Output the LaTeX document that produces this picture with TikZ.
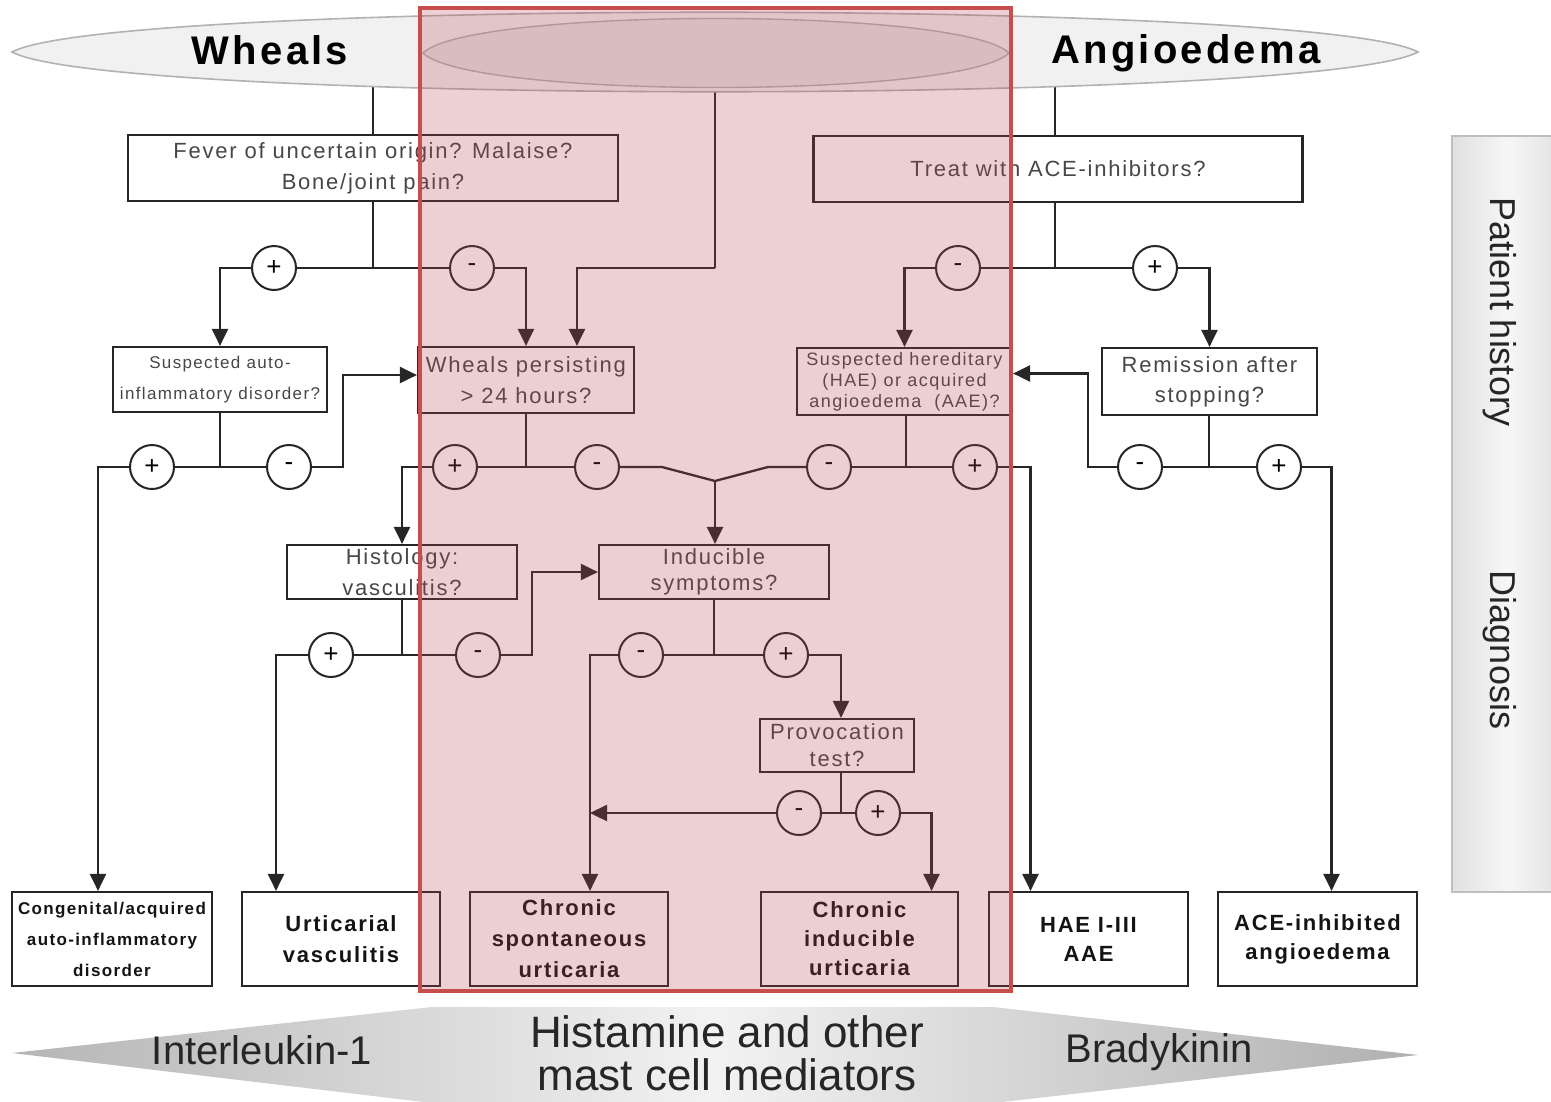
\documentclass[tikz,border=0pt]{standalone}
\usepackage{fontspec}
\setmainfont{Liberation Sans}
\newfontfamily\trk[LetterSpace=8]{Liberation Sans}
\usetikzlibrary{arrows.meta,calc}
\definecolor{ovl}{RGB}{183,67,79}
\definecolor{redline}{RGB}{198,78,76}
\begin{document}
\begin{tikzpicture}[x=1pt,y=-1pt,
  qbox/.style={draw=black!85,line width=2.2pt,fill=white,inner sep=0pt,align=center,text=black!72,font=\trk\fontsize{22}{31}\selectfont},
  dbox/.style={qbox,text=black!92,font=\trk\bfseries\fontsize{22}{31}\selectfont},
  sgn/.style={circle,draw=black!85,line width=2pt,fill=white,minimum size=44pt,inner sep=0pt,font=\fontsize{26}{26}\selectfont},
  ln/.style={line width=2.3pt,draw=black!85},
  arr/.style={ln,-{Triangle[length=17pt,width=16pt]}}]
\useasboundingbox (0,0) rectangle (1551,1101);

% ---------- question boxes ----------
\node[qbox,minimum width=490pt,minimum height=66pt] (B1) at (373,168) {Fever of uncertain origin? Malaise?\\Bone/joint pain?};
\node[qbox,minimum width=489pt,minimum height=66pt] (B2) at (1058,169) {Treat with ACE-inhibitors?};
\node[qbox,minimum width=214pt,minimum height=65pt,font=\trk\fontsize{17}{31}\selectfont] (B3) at (220,379.5) {Suspected auto-\\inflammatory disorder?};
\node[qbox,minimum width=216pt,minimum height=66pt] (B4) at (526,380) {Wheals persisting\\ > 24 hours?};
\node[qbox,minimum width=215pt,minimum height=67pt,font=\trk\fontsize{18}{21}\selectfont] (B5) at (904.5,381.5) {Suspected hereditary\\(HAE) or acquired\\angioedema\ \ (AAE)?};
\node[qbox,minimum width=215pt,minimum height=67pt,font=\trk\fontsize{22}{30}\selectfont] (B6) at (1209.5,381.5) {Remission after\\stopping?};
\node[qbox,minimum width=230pt,minimum height=54pt] (B7) at (402,572) {Histology:\\vasculitis?};
\node[qbox,minimum width=230pt,minimum height=54pt,font=\trk\fontsize{22}{26}\selectfont] (B8) at (714,572) {Inducible\\symptoms?};
\node[qbox,minimum width=154pt,minimum height=53pt,font=\trk\fontsize{22}{27}\selectfont] (B9) at (837,745.5) {Provocation\\test?};

% ---------- diagnosis boxes ----------
\node[dbox,minimum width=200pt,minimum height=94pt,font=\trk\bfseries\fontsize{17}{31}\selectfont] (C1) at (112,939) {Congenital/acquired\\auto-inflammatory\\disorder};
\node[dbox,minimum width=198pt,minimum height=94pt] (C2) at (341,939) {Urticarial\\vasculitis};
\node[dbox,minimum width=198pt,minimum height=94pt] (C3) at (569,939) {Chronic\\spontaneous\\urticaria};
\node[dbox,minimum width=197pt,minimum height=94pt,font=\trk\bfseries\fontsize{22}{29}\selectfont] (C4) at (859.5,939) {Chronic\\inducible\\urticaria};
\node[dbox,minimum width=199pt,minimum height=94pt,font=\trk\bfseries\fontsize{22}{29}\selectfont] (C5) at (1088.5,939) {HAE I-III\\AAE};
\node[dbox,minimum width=199pt,minimum height=94pt,font=\trk\bfseries\fontsize{22}{29}\selectfont] (C6) at (1317.5,939) {ACE-inhibited\\angioedema};

% ---------- sign circles ----------
\node[sgn] (s1) at (274,268) {+};
\node[sgn] (s2) at (472,268) {-};
\node[sgn] (s3) at (958,268) {-};
\node[sgn] (s4) at (1155,268) {+};
\node[sgn] (s5) at (152,467) {+};
\node[sgn] (s6) at (289,467) {-};
\node[sgn] (s7) at (455,467) {+};
\node[sgn] (s8) at (597,467) {-};
\node[sgn] (s9) at (829,467) {-};
\node[sgn] (s10) at (975,467) {+};
\node[sgn] (s11) at (1140,467) {-};
\node[sgn] (s12) at (1279,467) {+};
\node[sgn] (s13) at (331,655) {+};
\node[sgn] (s14) at (478,655) {-};
\node[sgn] (s15) at (641,655) {-};
\node[sgn] (s16) at (786,655) {+};
\node[sgn] (s17) at (799,813) {-};
\node[sgn] (s18) at (878,813) {+};

% ---------- junction coordinates ----------
\coordinate (wt) at (373,70);
\coordinate (mt) at (715,70);
\coordinate (at) at (1055,70);
\coordinate (j1) at (373,268);
\coordinate (m1) at (715,268);
\coordinate (j3) at (1055,268);
\coordinate (j4) at (220,467);
\coordinate (k1) at (343,467);
\coordinate (j5) at (526,467);
\coordinate (v1) at (662,467);
\coordinate (v0) at (715,481);
\coordinate (v2) at (768,467);
\coordinate (j6) at (906,467);
\coordinate (j7) at (1209,467);
\coordinate (k2) at (1088,467);
\coordinate (j8) at (402,655);
\coordinate (k3) at (532,655);
\coordinate (j9) at (714,655);
\coordinate (j10) at (841,813);
\coordinate (k4) at (590,813);

% ---------- connectors ----------
\draw[ln] (wt) -- (B1.north);
\draw[ln] (B1.south) -- (j1);
\draw[ln] (j1) -- (s1);
\draw[arr] (s1) -| (B3.north);
\draw[ln] (j1) -- (s2);
\draw[arr] (s2) -| (B4.north);
\draw[ln] (mt) -- (m1);
\draw[arr] (m1) -| ($(B4.north)+(51,0)$);
\draw[ln] (at) -- (B2.north -| at);
\draw[ln] (B2.south -| j3) -- (j3);
\draw[ln] (j3) -- (s3);
\draw[arr] (s3) -| (B5.north);
\draw[ln] (j3) -- (s4);
\draw[arr] (s4) -| (B6.north);

\draw[ln] (B3.south) -- (j4);
\draw[ln] (j4) -- (s5);
\draw[arr] (s5) -| ($(C1.north)+(-14,0)$);
\draw[ln] (j4) -- (s6);
\draw[arr] (s6) -- (k1) |- ($(B4.west)+(0,-5)$);
\draw[ln] (B4.south) -- (j5);
\draw[ln] (j5) -- (s7);
\draw[arr] (s7) -| (B7.north);
\draw[ln] (j5) -- (s8);
\draw[ln] (s8) -- (v1) -- (v0) -- (v2) -- (s9);
\draw[arr] (v0) -- (B8.north -| v0);
\draw[ln] (B5.south -| j6) -- (j6);
\draw[ln] (j6) -- (s9);
\draw[ln] (j6) -- (s10);
\draw[arr] (s10) -| ($(C5.north)+(-58,0)$);
\draw[ln] (B6.south -| j7) -- (j7);
\draw[ln] (j7) -- (s11);
\draw[arr] (s11) -- (k2) |- ($(B5.east)+(0,-8)$);
\draw[ln] (j7) -- (s12);
\draw[arr] (s12) -| ($(C6.north)+(14,0)$);

\draw[ln] (B7.south) -- (j8);
\draw[ln] (j8) -- (s13);
\draw[arr] (s13) -| ($(C2.north)+(-65,0)$);
\draw[ln] (j8) -- (s14);
\draw[arr] (s14) -- (k3) |- (B8.west);
\draw[ln] (B8.south) -- (j9);
\draw[ln] (j9) -- (s15);
\draw[arr] (s15) -| ($(C3.north)+(21,0)$);
\draw[ln] (j9) -- (s16);
\draw[arr] (s16) -| ($(B9.north)+(4,0)$);
\draw[ln] (B9.south -| j10) -- (j10);
\draw[ln] (j10) -- (s17);
\draw[arr] (s17) -- (k4);
\draw[ln] (j10) -- (s18);
\draw[arr] (s18) -| ($(C4.north)+(72,0)$);

% ---------- top lenses ----------
\draw[draw=gray!60,line width=1.6pt,fill=gray!11] (12,52) .. controls (110,-1) and (1320,-1) .. (1418,52) .. controls (1320,105) and (110,105) .. cycle;
\draw[draw=gray!60,line width=1.4pt,fill=gray!20] (423,53) .. controls (470,7) and (962,7) .. (1009,53) .. controls (962,99) and (470,99) .. cycle;

% ---------- highlighted overlay ----------
\fill[ovl,opacity=0.25] (420,8) rectangle (1011,991);
\draw[redline,line width=4pt] (420,8) rectangle (1011,991);

\node[font=\trk\bfseries\fontsize{40}{40}\selectfont] (wh) at (270,50) {Wheals};
\node[font=\trk\bfseries\fontsize{40}{40}\selectfont] (ae) at (1186,53) {Angioedema};

% ---------- right side panel ----------
\shade[left color=gray!24,right color=gray!24,middle color=gray!7] (1452,136) rectangle (1565,892);
\draw[gray!50,line width=1.2pt] (1565,136) -- (1452,136) -- (1452,892) -- (1565,892);
\node[rotate=-90,font=\fontsize{36}{36}\selectfont,text=black!85] (ph) at (1500,312) {Patient history};
\node[rotate=-90,font=\fontsize{36}{36}\selectfont,text=black!85] (dg) at (1500,650) {Diagnosis};

% ---------- mediators arrow ----------
\shade[left color=gray!58,right color=gray!62,middle color=gray!10] (12,1053) -- (432,1007) -- (993,1007) -- (1418,1055) -- (993,1103) -- (432,1103) -- cycle;
\node[font=\fontsize{40}{40}\selectfont,text=black!85] (il) at (262,1050) {Interleukin-1};
\node[font=\fontsize{44}{43}\selectfont,text=black!85,align=center] (hm) at (727,1053) {Histamine and other\\mast cell mediators};
\node[font=\fontsize{40}{40}\selectfont,text=black!85] (bk) at (1159,1052) {Bradykinin};
\end{tikzpicture}
\end{document}
